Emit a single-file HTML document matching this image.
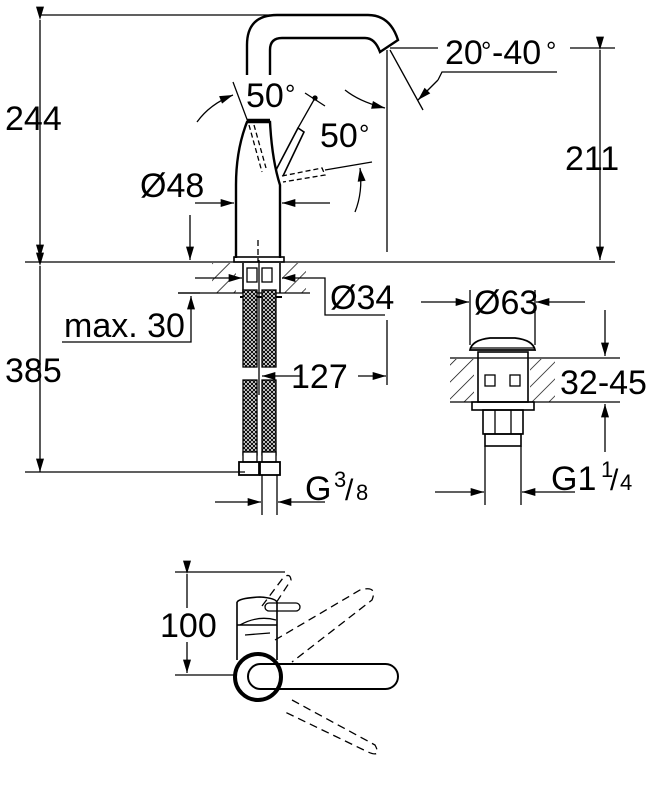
<!DOCTYPE html>
<html><head><meta charset="utf-8"><style>
html,body{margin:0;padding:0;background:#fff}
svg{display:block}
text{font-family:"Liberation Sans",sans-serif;fill:#000}
</style></head><body>
<svg width="658" height="794" viewBox="0 0 658 794" xmlns="http://www.w3.org/2000/svg">
<defs>
<marker id="a" viewBox="0 0 10 6" refX="10" refY="3" markerWidth="20" markerHeight="8" markerUnits="userSpaceOnUse" orient="auto"><path d="M0,0L10,3L0,6z" fill="#000"/></marker>
<pattern id="h" width="12" height="12" patternUnits="userSpaceOnUse" patternTransform="rotate(45)"><line x1="0" y1="0" x2="0" y2="12" stroke="#000" stroke-width="1.4"/></pattern>
<pattern id="mesh" width="4" height="4" patternUnits="userSpaceOnUse"><rect width="4" height="4" fill="#fff"/><path d="M0,0L4,4M4,0L0,4" stroke="#000" stroke-width="1"/></pattern>
</defs>
<g stroke="#000" fill="none" stroke-width="1.3">
<line x1="40" y1="15" x2="270" y2="15"/>
<line x1="25" y1="262" x2="615" y2="262"/>
<line x1="40" y1="20" x2="40" y2="258" marker-start="url(#a)" marker-end="url(#a)"/>
<line x1="40" y1="266" x2="40" y2="472" marker-start="url(#a)" marker-end="url(#a)"/>
<line x1="25" y1="472" x2="245" y2="472"/>
<line x1="390" y1="48" x2="438" y2="48"/>
<line x1="570" y1="48" x2="615" y2="48"/>
<line x1="600" y1="50" x2="600" y2="260" marker-start="url(#a)" marker-end="url(#a)"/>
<line x1="387" y1="50" x2="387" y2="252"/>
<path d="M247,75 L247,45 Q247,15 277,15 L368,15 Q390,15 398,40 L380,52 Q375,38 365,38 L282,38 Q270,38 270,50 L270,75" stroke-width="2.4"/>
<path d="M236,258 L236,185 Q236,150 247,122 L270,122 Q272,160 280,185 L280,258" stroke-width="2.4"/>
<line x1="247" y1="120" x2="270" y2="120" stroke-width="2.4"/>
<rect x="234" y="257" width="50" height="5" stroke-width="1.6"/>
<line x1="258" y1="240" x2="258" y2="262" stroke-dasharray="6,3"/>
<path d="M276,170 L298,128 L304,132 L283,176" stroke-width="1.6"/>
<line x1="298" y1="128" x2="315" y2="98"/>
<line x1="305" y1="93" x2="325" y2="106"/>
<circle cx="315" cy="98" r="2" fill="#000"/>
<path d="M249,125 L262,172 M254,125 L266,168" stroke-dasharray="5,3"/>
<path d="M282,176 L322,168 L325,175 L283,182" stroke-dasharray="5,3"/>
<line x1="325" y1="170" x2="372" y2="162"/>
<line x1="233" y1="82" x2="248" y2="122"/>
<path d="M197,122 Q210,104 233,95" marker-end="url(#a)"/>
<path d="M355,212 Q363,192 360,168" marker-end="url(#a)"/>
<path d="M345,90 Q360,102 385,108" marker-end="url(#a)"/>
<line x1="390" y1="50" x2="423" y2="110"/>
<polyline points="557,72 442,72 438,80"/>
<line x1="438" y1="80" x2="418" y2="100" marker-end="url(#a)"/>
<line x1="195" y1="203" x2="234" y2="203" marker-end="url(#a)"/>
<line x1="330" y1="203" x2="282" y2="203" marker-end="url(#a)"/>
<line x1="190" y1="215" x2="190" y2="260" marker-end="url(#a)"/>
<rect x="212" y="263" width="24" height="30" fill="url(#h)" stroke="none"/>
<rect x="282" y="263" width="24" height="30" fill="url(#h)" stroke="none"/>
<line x1="178" y1="293" x2="310" y2="293"/>
<line x1="243" y1="263" x2="243" y2="293" stroke-width="1.6"/>
<line x1="280" y1="263" x2="280" y2="293" stroke-width="1.6"/>
<line x1="195" y1="278" x2="242" y2="278" marker-end="url(#a)"/>
<polyline points="300,278 325,278 325,315 385,315"/>
<line x1="300" y1="278" x2="282" y2="278" marker-end="url(#a)"/>
<rect x="247" y="268" width="10" height="14"/>
<rect x="262" y="268" width="10" height="14"/>
<line x1="240" y1="297" x2="282" y2="297" stroke-width="2"/>
<rect x="243" y="290" width="14" height="77" fill="url(#mesh)"/>
<rect x="262" y="290" width="14" height="77" fill="url(#mesh)"/>
<rect x="243" y="380" width="14" height="75" fill="url(#mesh)"/>
<rect x="262" y="380" width="14" height="75" fill="url(#mesh)"/>
<rect x="243" y="452" width="14" height="10" fill="#fff"/>
<rect x="262" y="452" width="14" height="10" fill="#fff"/>
<rect x="239" y="462" width="20" height="13" stroke-width="1.8"/>
<rect x="260" y="462" width="20" height="13" stroke-width="1.8"/>
<line x1="259" y1="260" x2="259" y2="395"/>
<line x1="262" y1="475" x2="262" y2="515"/>
<line x1="277" y1="475" x2="277" y2="515"/>
<line x1="215" y1="502" x2="261" y2="502" marker-end="url(#a)"/>
<line x1="325" y1="502" x2="278" y2="502" marker-end="url(#a)"/>
<polyline points="62,342 191,342 191,296" marker-end="url(#a)"/>
<line x1="178" y1="293" x2="200" y2="293"/>
<line x1="300" y1="376" x2="262" y2="376" marker-end="url(#a)"/>
<line x1="358" y1="376" x2="386" y2="376" marker-end="url(#a)"/>
<line x1="387" y1="320" x2="387" y2="385"/>
<line x1="470" y1="290" x2="470" y2="345"/>
<line x1="535" y1="290" x2="535" y2="345"/>
<line x1="421" y1="302" x2="469" y2="302" marker-end="url(#a)"/>
<line x1="585" y1="302" x2="536" y2="302" marker-end="url(#a)"/>
<rect x="450" y="359" width="24" height="43" fill="url(#h)" stroke="none"/>
<rect x="530" y="359" width="25" height="43" fill="url(#h)" stroke="none"/>
<line x1="450" y1="358" x2="620" y2="358"/>
<line x1="450" y1="402" x2="620" y2="402"/>
<path d="M470,350 Q472,340 490,338 L515,338 Q533,340 535,350 Z" stroke-width="1.8"/>
<line x1="470" y1="348" x2="535" y2="348"/>
<rect x="478" y="352" width="50" height="50" stroke-width="1.6"/>
<rect x="485" y="375" width="10" height="11"/>
<rect x="510" y="375" width="10" height="11"/>
<rect x="472" y="402" width="62" height="8" stroke-width="1.6"/>
<rect x="483" y="410" width="40" height="24" stroke-width="1.6"/>
<line x1="495" y1="410" x2="495" y2="434"/><line x1="511" y1="410" x2="511" y2="434"/>
<rect x="485" y="434" width="36" height="12" stroke-width="1.6"/>
<line x1="485" y1="446" x2="485" y2="505"/>
<line x1="521" y1="446" x2="521" y2="505"/>
<line x1="605" y1="310" x2="605" y2="356" marker-end="url(#a)"/>
<line x1="605" y1="452" x2="605" y2="404" marker-end="url(#a)"/>
<line x1="435" y1="492" x2="484" y2="492" marker-end="url(#a)"/>
<line x1="575" y1="492" x2="522" y2="492" marker-end="url(#a)"/>
<line x1="175" y1="572" x2="285" y2="572"/>
<line x1="175" y1="675" x2="235" y2="675"/>
<line x1="187" y1="574" x2="187" y2="608" marker-start="url(#a)"/>
<line x1="187" y1="642" x2="187" y2="673" marker-end="url(#a)"/>
<g stroke-dasharray="8,5">
<path d="M262,606 L283,578 Q290,572 291,580 L276,603"/>
<path d="M275,640 L360,590 Q378,585 372,600 L292,662"/>
<path d="M292,700 L375,745 Q382,758 368,752 L285,712"/>
</g>
<path d="M237,602 L237,660 M277,602 L277,660" stroke-width="1.6"/>
<path d="M237,602 Q240,598 260,597 Q275,598 277,602" stroke-width="1.6"/>
<line x1="237" y1="625" x2="277" y2="625" stroke-width="1.6"/>
<path d="M240,625 Q258,615 276,620"/>
<line x1="245" y1="635" x2="270" y2="633"/>
<rect x="265" y="603" width="35" height="8" rx="4"/>
<circle cx="258" cy="677" r="23" stroke-width="4"/>
<rect x="248" y="664" width="150" height="25" rx="12.5" stroke-width="2"/>
</g>
<g font-size="34">
<text x="5" y="130">244</text>
<text x="5" y="382">385</text>
<text x="565" y="170">211</text>
<text x="246" y="107">50</text>
<text x="285" y="103" font-size="26">°</text>
<text x="320" y="147">50</text>
<text x="359" y="143" font-size="26">°</text>
<text x="445" y="64">20</text><text x="481" y="60" font-size="26">°</text><text x="492" y="64">-40</text><text x="546" y="60" font-size="26">°</text>
<text x="140" y="197">Ø48</text>
<text x="330" y="309">Ø34</text>
<text x="64" y="337">max. 30</text>
<text x="291" y="388">127</text>
<text x="305" y="500">G</text><text x="334" y="487" font-size="22">3</text><text x="345" y="500" font-size="30">/</text><text x="356" y="500" font-size="22">8</text>
<text x="474" y="314">Ø63</text>
<text x="560" y="394">32-45</text>
<text x="551" y="490">G1</text><text x="601" y="477" font-size="22">1</text><text x="610" y="490" font-size="30">/</text><text x="620" y="490" font-size="22">4</text>
<text x="160" y="637">100</text>
</g>
</svg>
</body></html>
